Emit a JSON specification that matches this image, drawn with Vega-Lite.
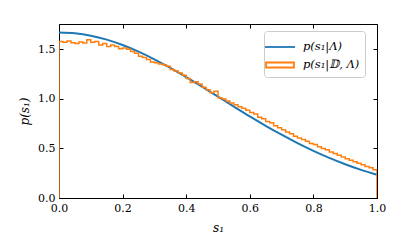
{
  "$schema": "https://vega.github.io/schema/vega-lite/v6.json",
  "width": 318,
  "height": 174,
  "autosize": {"type": "none"},
  "padding": {"left": 59, "top": 24, "right": 20, "bottom": 50},
  "background": "white",
  "config": {
    "view": {"stroke": null},
    "font": "DejaVu Serif",
    "axis": {
      "domain": true, "domainColor": "black", "domainWidth": 1,
      "ticks": true, "tickColor": "black", "tickSize": -4, "tickWidth": 1,
      "grid": false, "labelFont": "DejaVu Serif", "labelFontSize": 11, "labelColor": "black",
      "labelFlush": false, "labelOverlap": false,
      "titleFont": "DejaVu Serif", "titleFontSize": 12, "titleColor": "black",
      "titleFontWeight": "normal", "titleFontStyle": "italic"
    }
  },
  "data": {
    "values": [
      {"series": "p(s₁|Λ)", "x": 0.0, "y": 1.670, "o": 0},
      {"series": "p(s₁|Λ)", "x": 0.05, "y": 1.662, "o": 1},
      {"series": "p(s₁|Λ)", "x": 0.1, "y": 1.638, "o": 2},
      {"series": "p(s₁|Λ)", "x": 0.15, "y": 1.598, "o": 3},
      {"series": "p(s₁|Λ)", "x": 0.2, "y": 1.544, "o": 4},
      {"series": "p(s₁|Λ)", "x": 0.25, "y": 1.477, "o": 5},
      {"series": "p(s₁|Λ)", "x": 0.3, "y": 1.400, "o": 6},
      {"series": "p(s₁|Λ)", "x": 0.35, "y": 1.313, "o": 7},
      {"series": "p(s₁|Λ)", "x": 0.4, "y": 1.220, "o": 8},
      {"series": "p(s₁|Λ)", "x": 0.45, "y": 1.123, "o": 9},
      {"series": "p(s₁|Λ)", "x": 0.5, "y": 1.023, "o": 10},
      {"series": "p(s₁|Λ)", "x": 0.55, "y": 0.923, "o": 11},
      {"series": "p(s₁|Λ)", "x": 0.6, "y": 0.824, "o": 12},
      {"series": "p(s₁|Λ)", "x": 0.65, "y": 0.729, "o": 13},
      {"series": "p(s₁|Λ)", "x": 0.7, "y": 0.639, "o": 14},
      {"series": "p(s₁|Λ)", "x": 0.75, "y": 0.554, "o": 15},
      {"series": "p(s₁|Λ)", "x": 0.8, "y": 0.476, "o": 16},
      {"series": "p(s₁|Λ)", "x": 0.85, "y": 0.405, "o": 17},
      {"series": "p(s₁|Λ)", "x": 0.9, "y": 0.341, "o": 18},
      {"series": "p(s₁|Λ)", "x": 0.95, "y": 0.284, "o": 19},
      {"series": "p(s₁|Λ)", "x": 1.0, "y": 0.235, "o": 20},

      {"series": "p(s₁|𝔻, Λ)", "x": 0.0, "y": 0.0, "o": 0},
      {"series": "p(s₁|𝔻, Λ)", "x": 0.0, "y": 1.580, "o": 1},
      {"series": "p(s₁|𝔻, Λ)", "x": 0.0125, "y": 1.572, "o": 2},
      {"series": "p(s₁|𝔻, Λ)", "x": 0.025, "y": 1.585, "o": 3},
      {"series": "p(s₁|𝔻, Λ)", "x": 0.0375, "y": 1.568, "o": 4},
      {"series": "p(s₁|𝔻, Λ)", "x": 0.05, "y": 1.560, "o": 5},
      {"series": "p(s₁|𝔻, Λ)", "x": 0.0625, "y": 1.575, "o": 6},
      {"series": "p(s₁|𝔻, Λ)", "x": 0.075, "y": 1.565, "o": 7},
      {"series": "p(s₁|𝔻, Λ)", "x": 0.0875, "y": 1.598, "o": 8},
      {"series": "p(s₁|𝔻, Λ)", "x": 0.1, "y": 1.572, "o": 9},
      {"series": "p(s₁|𝔻, Λ)", "x": 0.1125, "y": 1.580, "o": 10},
      {"series": "p(s₁|𝔻, Λ)", "x": 0.125, "y": 1.545, "o": 11},
      {"series": "p(s₁|𝔻, Λ)", "x": 0.1375, "y": 1.560, "o": 12},
      {"series": "p(s₁|𝔻, Λ)", "x": 0.15, "y": 1.528, "o": 13},
      {"series": "p(s₁|𝔻, Λ)", "x": 0.1625, "y": 1.545, "o": 14},
      {"series": "p(s₁|𝔻, Λ)", "x": 0.175, "y": 1.530, "o": 15},
      {"series": "p(s₁|𝔻, Λ)", "x": 0.1875, "y": 1.505, "o": 16},
      {"series": "p(s₁|𝔻, Λ)", "x": 0.2, "y": 1.515, "o": 17},
      {"series": "p(s₁|𝔻, Λ)", "x": 0.2125, "y": 1.500, "o": 18},
      {"series": "p(s₁|𝔻, Λ)", "x": 0.225, "y": 1.478, "o": 19},
      {"series": "p(s₁|𝔻, Λ)", "x": 0.2375, "y": 1.462, "o": 20},
      {"series": "p(s₁|𝔻, Λ)", "x": 0.25, "y": 1.430, "o": 21},
      {"series": "p(s₁|𝔻, Λ)", "x": 0.2625, "y": 1.418, "o": 22},
      {"series": "p(s₁|𝔻, Λ)", "x": 0.275, "y": 1.398, "o": 23},
      {"series": "p(s₁|𝔻, Λ)", "x": 0.2875, "y": 1.372, "o": 24},
      {"series": "p(s₁|𝔻, Λ)", "x": 0.3, "y": 1.365, "o": 25},
      {"series": "p(s₁|𝔻, Λ)", "x": 0.3125, "y": 1.352, "o": 26},
      {"series": "p(s₁|𝔻, Λ)", "x": 0.325, "y": 1.345, "o": 27},
      {"series": "p(s₁|𝔻, Λ)", "x": 0.3375, "y": 1.330, "o": 28},
      {"series": "p(s₁|𝔻, Λ)", "x": 0.35, "y": 1.298, "o": 29},
      {"series": "p(s₁|𝔻, Λ)", "x": 0.3625, "y": 1.282, "o": 30},
      {"series": "p(s₁|𝔻, Λ)", "x": 0.375, "y": 1.262, "o": 31},
      {"series": "p(s₁|𝔻, Λ)", "x": 0.3875, "y": 1.240, "o": 32},
      {"series": "p(s₁|𝔻, Λ)", "x": 0.4, "y": 1.205, "o": 33},
      {"series": "p(s₁|𝔻, Λ)", "x": 0.4125, "y": 1.165, "o": 34},
      {"series": "p(s₁|𝔻, Λ)", "x": 0.425, "y": 1.172, "o": 35},
      {"series": "p(s₁|𝔻, Λ)", "x": 0.4375, "y": 1.150, "o": 36},
      {"series": "p(s₁|𝔻, Λ)", "x": 0.45, "y": 1.118, "o": 37},
      {"series": "p(s₁|𝔻, Λ)", "x": 0.4625, "y": 1.092, "o": 38},
      {"series": "p(s₁|𝔻, Λ)", "x": 0.475, "y": 1.062, "o": 39},
      {"series": "p(s₁|𝔻, Λ)", "x": 0.4875, "y": 1.078, "o": 40},
      {"series": "p(s₁|𝔻, Λ)", "x": 0.5, "y": 1.012, "o": 41},
      {"series": "p(s₁|𝔻, Λ)", "x": 0.5125, "y": 1.000, "o": 42},
      {"series": "p(s₁|𝔻, Λ)", "x": 0.525, "y": 0.978, "o": 43},
      {"series": "p(s₁|𝔻, Λ)", "x": 0.5375, "y": 0.958, "o": 44},
      {"series": "p(s₁|𝔻, Λ)", "x": 0.55, "y": 0.940, "o": 45},
      {"series": "p(s₁|𝔻, Λ)", "x": 0.5625, "y": 0.920, "o": 46},
      {"series": "p(s₁|𝔻, Λ)", "x": 0.575, "y": 0.905, "o": 47},
      {"series": "p(s₁|𝔻, Λ)", "x": 0.5875, "y": 0.885, "o": 48},
      {"series": "p(s₁|𝔻, Λ)", "x": 0.6, "y": 0.862, "o": 49},
      {"series": "p(s₁|𝔻, Λ)", "x": 0.6125, "y": 0.848, "o": 50},
      {"series": "p(s₁|𝔻, Λ)", "x": 0.625, "y": 0.815, "o": 51},
      {"series": "p(s₁|𝔻, Λ)", "x": 0.6375, "y": 0.800, "o": 52},
      {"series": "p(s₁|𝔻, Λ)", "x": 0.65, "y": 0.772, "o": 53},
      {"series": "p(s₁|𝔻, Λ)", "x": 0.6625, "y": 0.760, "o": 54},
      {"series": "p(s₁|𝔻, Λ)", "x": 0.675, "y": 0.728, "o": 55},
      {"series": "p(s₁|𝔻, Λ)", "x": 0.6875, "y": 0.710, "o": 56},
      {"series": "p(s₁|𝔻, Λ)", "x": 0.7, "y": 0.688, "o": 57},
      {"series": "p(s₁|𝔻, Λ)", "x": 0.7125, "y": 0.665, "o": 58},
      {"series": "p(s₁|𝔻, Λ)", "x": 0.725, "y": 0.648, "o": 59},
      {"series": "p(s₁|𝔻, Λ)", "x": 0.7375, "y": 0.622, "o": 60},
      {"series": "p(s₁|𝔻, Λ)", "x": 0.75, "y": 0.605, "o": 61},
      {"series": "p(s₁|𝔻, Λ)", "x": 0.7625, "y": 0.590, "o": 62},
      {"series": "p(s₁|𝔻, Λ)", "x": 0.775, "y": 0.572, "o": 63},
      {"series": "p(s₁|𝔻, Λ)", "x": 0.7875, "y": 0.550, "o": 64},
      {"series": "p(s₁|𝔻, Λ)", "x": 0.8, "y": 0.540, "o": 65},
      {"series": "p(s₁|𝔻, Λ)", "x": 0.8125, "y": 0.518, "o": 66},
      {"series": "p(s₁|𝔻, Λ)", "x": 0.825, "y": 0.500, "o": 67},
      {"series": "p(s₁|𝔻, Λ)", "x": 0.8375, "y": 0.488, "o": 68},
      {"series": "p(s₁|𝔻, Λ)", "x": 0.85, "y": 0.465, "o": 69},
      {"series": "p(s₁|𝔻, Λ)", "x": 0.8625, "y": 0.450, "o": 70},
      {"series": "p(s₁|𝔻, Λ)", "x": 0.875, "y": 0.432, "o": 71},
      {"series": "p(s₁|𝔻, Λ)", "x": 0.8875, "y": 0.415, "o": 72},
      {"series": "p(s₁|𝔻, Λ)", "x": 0.9, "y": 0.395, "o": 73},
      {"series": "p(s₁|𝔻, Λ)", "x": 0.9125, "y": 0.380, "o": 74},
      {"series": "p(s₁|𝔻, Λ)", "x": 0.925, "y": 0.365, "o": 75},
      {"series": "p(s₁|𝔻, Λ)", "x": 0.9375, "y": 0.350, "o": 76},
      {"series": "p(s₁|𝔻, Λ)", "x": 0.95, "y": 0.335, "o": 77},
      {"series": "p(s₁|𝔻, Λ)", "x": 0.9625, "y": 0.318, "o": 78},
      {"series": "p(s₁|𝔻, Λ)", "x": 0.975, "y": 0.305, "o": 79},
      {"series": "p(s₁|𝔻, Λ)", "x": 0.9875, "y": 0.285, "o": 80},
      {"series": "p(s₁|𝔻, Λ)", "x": 1.0, "y": 0.285, "o": 81},
      {"series": "p(s₁|𝔻, Λ)", "x": 1.0, "y": 0.0, "o": 82}
    ]
  },
  "layer": [
    {
      "transform": [{"filter": "datum.series === 'p(s₁|Λ)'"}],
      "mark": {"type": "line", "strokeWidth": 2, "clip": true, "interpolate": "monotone"},
      "encoding": {
        "x": {"field": "x", "type": "quantitative", "scale": {"domain": [0, 1], "nice": false},
              "axis": {"orient": "bottom", "values": [0, 0.2, 0.4, 0.6, 0.8, 1.0], "format": ".1f", "title": "s₁", "labelPadding": 8, "titlePadding": 9}},
        "y": {"field": "y", "type": "quantitative", "scale": {"domain": [0, 1.756], "nice": false, "zero": true},
              "axis": {"orient": "left", "values": [0, 0.5, 1.0, 1.5], "format": ".1f", "title": "p(s₁)", "labelPadding": 8, "titlePadding": 6}},
        "color": {"field": "series", "type": "nominal",
                  "scale": {"domain": ["p(s₁|Λ)", "p(s₁|𝔻, Λ)"], "range": ["#1f77b4", "#ff7f0e"]},
                  "legend": {"title": null, "orient": "none", "legendX": 205, "legendY": 7,
                             "strokeColor": "#cccccc", "fillColor": "white", "cornerRadius": 3, "padding": 5,
                             "symbolSize": 400, "rowPadding": 1, "labelFont": "DejaVu Serif", "labelFontSize": 11.5,
                             "labelFontStyle": "italic", "labelOffset": 12, "labelColor": "black", "symbolStrokeWidth": 1.8,
                             "encode": {"symbols": {"update": {
                               "shape": {"signal": "datum.value === 'p(s₁|Λ)' ? 'M-1.5,0H1.5' : 'M-1.4,-0.25H1.4V0.25H-1.4Z'"},
                               "fill": {"value": "transparent"}}}}}},
        "order": {"field": "o", "type": "quantitative"}
      }
    },
    {
      "transform": [{"filter": "datum.series === 'p(s₁|𝔻, Λ)'"}],
      "mark": {"type": "line", "strokeWidth": 1.5, "clip": true, "interpolate": "step-after"},
      "encoding": {
        "x": {"field": "x", "type": "quantitative",
              "axis": {"orient": "top", "values": [0, 0.2, 0.4, 0.6, 0.8, 1.0], "labels": false, "title": null}},
        "y": {"field": "y", "type": "quantitative",
              "axis": {"orient": "right", "values": [0, 0.5, 1.0, 1.5], "labels": false, "title": null}},
        "color": {"field": "series", "type": "nominal"},
        "order": {"field": "o", "type": "quantitative"}
      }
    }
  ],
  "resolve": {"axis": {"x": "independent", "y": "independent"}}
}
